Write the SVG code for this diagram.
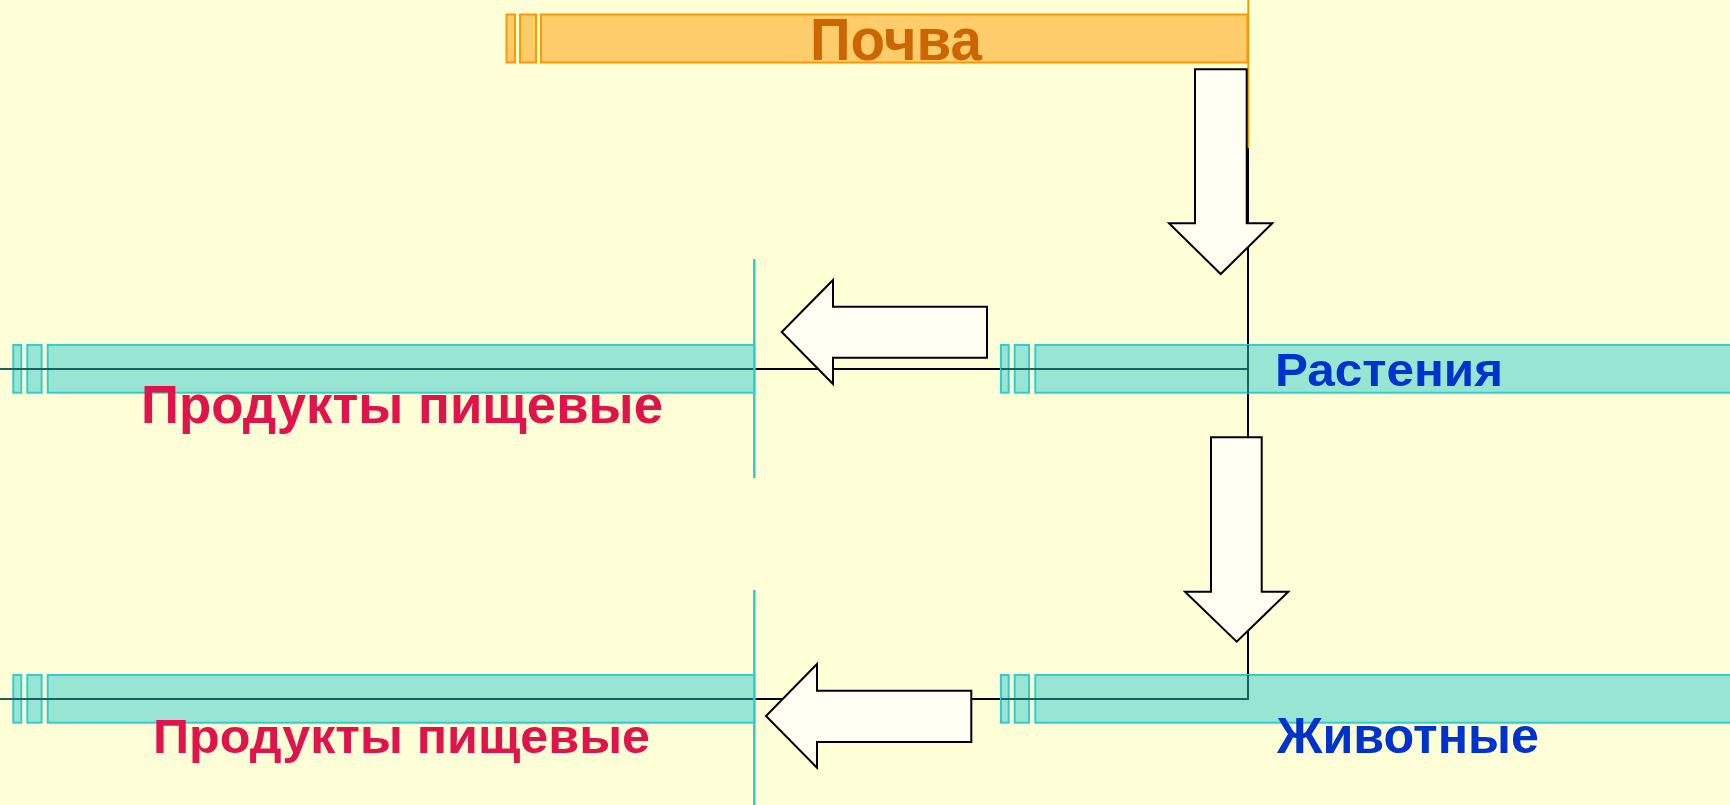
<svg xmlns="http://www.w3.org/2000/svg" width="1730" height="805" viewBox="0 0 1730 805">
<style>
.bg{fill:#ffffd7}
.orange{fill:#fecc6a;stroke:#ff9900;stroke-width:2}
.teal{fill:#99e5d3;stroke:#33cccc;stroke-width:2}
.edge{stroke:#33cccc;stroke-width:2.5;fill:none}
.conn{stroke:#000;stroke-width:2;fill:none}
.inner{stroke:#1a6262;stroke-width:2;fill:none}
.arrow{fill:#fffff4;stroke:#000;stroke-width:2;stroke-linejoin:miter}
.t{font-family:"Liberation Sans",Arial,sans-serif;font-weight:bold}
</style>
<rect class="bg" x="0" y="0" width="1730" height="805"/>
<g id="connectors">
<line class="conn" x1="1248" y1="148" x2="1248" y2="699"/>
<line class="conn" x1="0" y1="369" x2="1248" y2="369"/>
<line class="conn" x1="0" y1="699" x2="1248" y2="699"/>
</g>
<g id="node-pochva">
<rect class="orange" x="506.5" y="14.5" width="8.5" height="48"/>
<rect class="orange" x="520" y="14.5" width="16" height="48"/>
<rect class="orange" x="541" y="14.5" width="706.5" height="48"/>
<line x1="1248.3" y1="0" x2="1248.3" y2="148" stroke="#ff9900" stroke-width="2"/>
<text class="t" x="810" y="60" font-size="59" fill="#cc6600" textLength="172" lengthAdjust="spacingAndGlyphs">Почва</text>
</g>
<g id="node-produkty-1">
<rect class="teal" x="13.3" y="345" width="8" height="47.7"/>
<rect class="teal" x="27.3" y="345" width="14.3" height="47.7"/>
<rect class="teal" x="47.7" y="345" width="706.6" height="47.7"/>
<line class="inner" x1="0" y1="369" x2="754" y2="369"/>
<line class="edge" x1="754.3" y1="259" x2="754.3" y2="478"/>
<text class="t" x="141" y="423" font-size="53" fill="#e0144c" textLength="522" lengthAdjust="spacingAndGlyphs">Продукты пищевые</text>
</g>
<g id="node-rastenia">
<rect class="teal" x="1001" y="345" width="7.7" height="47.7"/>
<rect class="teal" x="1014.7" y="345" width="14.3" height="47.7"/>
<rect class="teal" x="1035.3" y="345" width="720" height="47.7"/>
<line class="inner" x1="1001" y1="369" x2="1248" y2="369"/>
<line class="inner" x1="1248" y1="345" x2="1248" y2="392.7"/>
<text class="t" x="1275" y="386" font-size="47" fill="#0033cc" textLength="228" lengthAdjust="spacingAndGlyphs">Растения</text>
</g>
<g id="node-produkty-2">
<rect class="teal" x="13.3" y="675" width="8" height="47.7"/>
<rect class="teal" x="27.3" y="675" width="14.3" height="47.7"/>
<rect class="teal" x="47.7" y="675" width="706.6" height="47.7"/>
<line class="inner" x1="0" y1="699" x2="754" y2="699"/>
<line class="edge" x1="754.3" y1="590" x2="754.3" y2="805"/>
<text class="t" x="153" y="752.5" font-size="48" fill="#e0144c" textLength="497" lengthAdjust="spacingAndGlyphs">Продукты пищевые</text>
</g>
<g id="node-zhivotnye">
<rect class="teal" x="1001" y="675" width="7.7" height="47.7"/>
<rect class="teal" x="1014.7" y="675" width="14.3" height="47.7"/>
<rect class="teal" x="1035.3" y="675" width="720" height="47.7"/>
<polyline class="inner" points="1001,699 1248,699 1248,675"/>
<text class="t" x="1277" y="752.5" font-size="50" fill="#0033cc" textLength="262" lengthAdjust="spacingAndGlyphs">Животные</text>
</g>
<g id="arrows">
<path class="arrow" d="M1195,69.3 H1246.7 V223.3 H1272.3 L1220.7,274 L1169,223.3 H1195 Z"/>
<path class="arrow" d="M1211,437.3 H1261.7 V591.7 H1288.3 L1236.7,641.7 L1185,591.7 H1211 Z"/>
<path class="arrow" d="M987,306.7 V357.7 H833 V384 L781.7,332 L833,280 V306.7 Z"/>
<path class="arrow" d="M971.3,690.7 V742 H817 V767.7 L766,716 L817,664 V690.7 Z"/>
</g>
</svg>
